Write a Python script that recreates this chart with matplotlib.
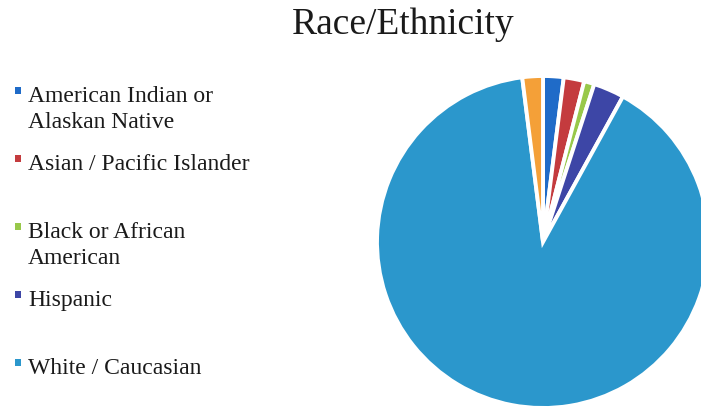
import matplotlib
matplotlib.use("Agg")
import matplotlib.pyplot as plt
from matplotlib.patches import Rectangle

# Share of respondents by race / ethnicity (percent)
categories = ["American Indian or\nAlaskan Native", "Asian / Pacific Islander",
              "Black or African\nAmerican", "Hispanic", "White / Caucasian", "Other"]
shares = [2, 2, 1, 3, 90, 2]
colors = ["#1f6bc8", "#c43b3e", "#98c84a", "#3d46a6", "#2b97cc", "#f4a038"]
legend_count = 5  # entries listed in the legend

W, H = 701, 409
fig = plt.figure(figsize=(W / 100, H / 100), dpi=100)
fig.patch.set_facecolor("white")

serif = ["Liberation Serif", "DejaVu Serif"]

# Pie placed by pixel geometry: centre (543, 242), radius 166
cx, cy, r = 543, 242, 166
ax = fig.add_axes([(cx - r) / W, (H - cy - r) / H, 2 * r / W, 2 * r / H])
ax.pie(shares, colors=colors, startangle=90, counterclock=False,
       wedgeprops=dict(edgecolor="white", linewidth=2.8))
ax.set_xlim(-1, 1)
ax.set_ylim(-1, 1)
ax.set_aspect("equal")
ax.axis("off")

fig.text(403 / W, 1 - 34 / H, "Race/Ethnicity", family=serif, fontsize=27,
         ha="center", va="baseline", color="#1a1a1a")

# Legend: fixed-height slots, text top-aligned, marker beside first line
first_baseline = 102
slot_h = 68
line_gap = 26.5
for i in range(legend_count):
    base = first_baseline + i * slot_h
    for j, line in enumerate(categories[i].split("\n")):
        fig.text(28 / W, 1 - (base + j * line_gap) / H, line, family=serif,
                 fontsize=17, ha="left", va="baseline", color="#1a1a1a")
    fig.add_artist(Rectangle((15 / W, 1 - (base - 8) / H), 6 / W, 7 / H,
                             transform=fig.transFigure, facecolor=colors[i],
                             edgecolor="none"))

fig.savefig("out.png", dpi=100, facecolor="white")
